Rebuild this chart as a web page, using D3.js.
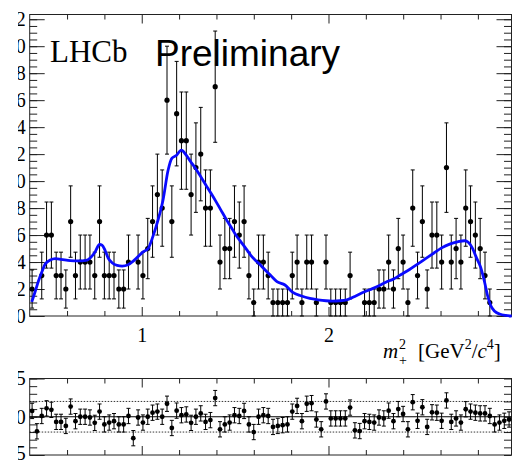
<!DOCTYPE html>
<html>
<head>
<meta charset="utf-8">
<script src="https://cdn.jsdelivr.net/npm/d3@7"></script>
<style>
body { margin: 0; background: #fff; }
svg { display: block; }
</style>
</head>
<body>
<div id="chart"></div>
<script>
// events per bin (100 bins)
var counts = [2,0,3,6,6,3,3,2,7,3, 4,4,4,3,7,3,3,3,2,2,
              4,0,4,3,5,7,9,8,16,7, 15,13,13,9,11,12,8,8,17,4,
              5,5,7,6,7,3,1,4,4,3, 1,1,1,1,3,4,1,4,4,1,
              0,4,1,1,1,1,3,0,0,1, 1,1,2,2,4,2,5,4,1,8,
              3,7,2,6,6,4,11,4,5,4, 8,7,6,5,3,1,0,0,0,0];
// pulls per bin
var pulls = [0.76,-1.9,0.1,1.1,0.9,-0.67,-0.67,-1.2,1.33,-0.58,
             0,0,-0.1,-0.8,0.67,-1.0,-0.76,-0.58,-1.0,-1.0,
             0.1,-2.8,-0.1,-0.76,0,0.53,0.67,0,1.7,-1.47,
             0.8,0.2,0.3,-0.8,0,0.44,-0.67,-0.44,2.44,-1.64,
             -1.0,-0.76,0.2,0.1,0.76,-1.0,-2.0,0,0.2,0.1,
             -1.33,-1.2,-1.1,-1.0,0.67,1.42,-0.58,1.7,1.78,-0.36,
             -1.64,2.0,-0.22,-0.22,-0.22,-0.22,1.2,-1.78,-1.87,-0.58,
             -0.67,-0.76,-0.1,-0.22,0.8,-0.58,1.0,0.36,-1.64,1.9,
             -0.53,1.24,-1.33,0.58,0.53,-0.53,2.13,-0.67,-0.22,-0.76,
             0.98,0.67,0.53,0.44,0.44,0.1,-1.0,-0.76,-0.53,-0.36];
// fit curve
var fitX = [0.411,0.429,0.447,0.466,0.483,0.510,0.537,0.568,0.617,0.659,
            0.702,0.724,0.750,0.774,0.788,0.804,0.820,0.841,0.868,0.895,
            0.927,0.953,0.980,1.007,1.034,1.060,1.087,1.114,1.141,1.162,
            1.185,1.212,1.239,1.264,1.290,1.317,1.344,1.371,1.397,1.424,
            1.451,1.478,1.504,1.531,1.558,1.584,1.611,1.638,1.665,1.691,
            1.724,1.767,1.809,1.852,1.900,1.943,1.986,2.023,2.061,2.098,
            2.141,2.178,2.221,2.264,2.307,2.349,2.392,2.434,2.477,2.520,
            2.563,2.606,2.649,2.691,2.729,2.750,2.772,2.793,2.815,2.836,
            2.852,2.868,2.890,2.916,2.949,2.981];
var fitY = [1.05,1.8,2.6,3.3,3.85,4.15,4.25,4.2,4.1,4.08,
            4.12,4.3,4.75,5.3,5.25,4.85,4.3,3.95,3.75,3.7,
            3.8,4.05,4.4,4.75,5.0,5.9,7.1,8.6,10.8,11.7,
            11.9,12.3,11.9,11.4,10.9,10.3,9.7,9.1,8.5,7.85,
            7.2,6.6,6.0,5.5,5.0,4.5,4.1,3.75,3.35,3.0,
            2.55,2.3,1.75,1.5,1.3,1.2,1.13,1.11,1.13,1.2,
            1.45,1.7,1.95,2.2,2.5,2.75,3.1,3.45,3.85,4.25,
            4.65,5.05,5.33,5.5,5.58,5.45,5.0,4.3,3.6,2.5,
            1.5,0.8,0.35,0.15,0.04,0.0];
var yLabels = [0,2,4,6,8,10,12,14,16,18,20,22];
var pullLabels = [-5,0,5];
var xLabels = [1,2];

var w = 512, h = 461;
var fr = {left: 29.7, right: 511.5, top: 14.5, bottom: 316};
var pfr = {top: 378.5, bottom: 455};
var xLo = 0.4, xHi = 2.98, binW = (xHi - xLo) / counts.length;
var ink = '#222', serif = 'Liberation Serif, Times New Roman, serif';

var svg = d3.select('#chart').append('svg')
    .attr('width', w)
    .attr('height', h);

var x = d3.scaleLinear().domain([xLo, xHi]).range([fr.left, fr.right]);
var y = d3.scaleLinear().domain([0, 22.35]).range([fr.bottom, fr.top]);
var yp = d3.scaleLinear().domain([-5, 5]).range([pfr.bottom, pfr.top]);

var minorX = d3.range(6, 30, 2).map(function(d) { return d / 10; })
    .filter(function(d) { return d !== 1 && d !== 2; });

function axisStyle(g) {
    g.select('.domain').remove();
    g.selectAll('line').attr('stroke', ink).attr('stroke-width', 1);
    g.selectAll('text').attr('font-family', serif).attr('font-size', 20).attr('fill', '#000');
}

// x axes, both pads
function xAxes(top, bottom, labels) {
    svg.append('g').attr('transform', translation(0, bottom))
        .call(d3.axisBottom(x).tickValues(xLabels).tickSizeInner(-9).tickSizeOuter(0)
            .tickPadding(12).tickFormat(labels ? d3.format('d') : ''))
        .call(axisStyle);
    svg.append('g').attr('transform', translation(0, bottom))
        .call(d3.axisBottom(x).tickValues(minorX).tickSizeInner(-5).tickSizeOuter(0).tickFormat(''))
        .call(axisStyle);
    svg.append('g').attr('transform', translation(0, top))
        .call(d3.axisTop(x).tickValues(xLabels).tickSizeInner(-9).tickSizeOuter(0).tickFormat(''))
        .call(axisStyle);
    svg.append('g').attr('transform', translation(0, top))
        .call(d3.axisTop(x).tickValues(minorX).tickSizeInner(-5).tickSizeOuter(0).tickFormat(''))
        .call(axisStyle);
}
xAxes(fr.top, fr.bottom, true);
xAxes(pfr.top, pfr.bottom, false);

// y axes main pad
var minorY = d3.range(0, 45).map(function(d) { return d / 2; });
svg.append('g').attr('transform', translation(fr.left, 0))
    .call(d3.axisLeft(y).tickValues(yLabels).tickSizeInner(-15).tickSizeOuter(0).tickPadding(4))
    .call(axisStyle);
svg.append('g').attr('transform', translation(fr.left, 0))
    .call(d3.axisLeft(y).tickValues(minorY).tickSizeInner(-7.5).tickSizeOuter(0).tickFormat(''))
    .call(axisStyle);
svg.append('g').attr('transform', translation(fr.right, 0))
    .call(d3.axisRight(y).tickValues(yLabels).tickSizeInner(-15).tickSizeOuter(0).tickFormat(''))
    .call(axisStyle);
svg.append('g').attr('transform', translation(fr.right, 0))
    .call(d3.axisRight(y).tickValues(minorY).tickSizeInner(-7.5).tickSizeOuter(0).tickFormat(''))
    .call(axisStyle);

// y axes pull pad
var minorP = d3.range(-5, 6);
svg.append('g').attr('transform', translation(fr.left, 0))
    .call(d3.axisLeft(yp).tickValues(pullLabels).tickSizeInner(-15).tickSizeOuter(0).tickPadding(4))
    .call(axisStyle)
    .selectAll('text').attr('dy', function(d) { return d < 0 ? '0.2em' : '0.32em'; });
svg.append('g').attr('transform', translation(fr.left, 0))
    .call(d3.axisLeft(yp).tickValues(minorP).tickSizeInner(-7.5).tickSizeOuter(0).tickFormat(''))
    .call(axisStyle);
svg.append('g').attr('transform', translation(fr.right, 0))
    .call(d3.axisRight(yp).tickValues(minorP).tickSizeInner(-7.5).tickSizeOuter(0).tickFormat(''))
    .call(axisStyle);

// frames
[[fr.top, fr.bottom], [pfr.top, pfr.bottom]].forEach(function(f) {
    svg.append('rect')
        .attr('x', fr.left).attr('y', f[0])
        .attr('width', fr.right - fr.left).attr('height', f[1] - f[0])
        .attr('fill', 'none').attr('stroke', ink).attr('stroke-width', 1);
});

// pull reference lines
svg.append('line')
    .attr('x1', fr.left).attr('x2', fr.right)
    .attr('y1', yp(0)).attr('y2', yp(0))
    .attr('stroke', '#000').attr('stroke-width', 1.2);
[-2, 2].forEach(function(v) {
    svg.append('line')
        .attr('x1', fr.left).attr('x2', fr.right)
        .attr('y1', yp(v)).attr('y2', yp(v))
        .attr('stroke', '#000').attr('stroke-width', 0.8)
        .attr('stroke-dasharray', '1.5,1.5');
});

// data points with sqrt(n) errors
var bins = counts.map(function(n, i) {
    return {x: xLo + (i + 0.5) * binW, n: n, e: Math.sqrt(n), p: pulls[i]};
});
var filled = bins.filter(function(d) { return d.n > 0; });

var pts = svg.append('g');
drawErrors(pts, filled, function(d) { return y(d.n + d.e); }, function(d) { return y(d.n - d.e); });
pts.selectAll('circle')
    .data(filled)
    .enter().append('circle')
    .attr('cx', function(d) { return x(d.x); })
    .attr('cy', function(d) { return y(d.n); })
    .attr('r', 2.6)
    .attr('fill', '#000');

// fit curve
var fit = fitX.map(function(v, i) { return [v, fitY[i]]; });
svg.append('path')
    .datum(fit)
    .attr('d', d3.line()
        .x(function(d) { return x(d[0]); })
        .y(function(d) { return y(d[1]); })
        .curve(d3.curveMonotoneX))
    .attr('fill', 'none')
    .attr('stroke', '#0a0aff')
    .attr('stroke-width', 2.8);

// pull points
var pp = svg.append('g');
drawErrors(pp, bins, function(d) { return yp(d.p + 1); }, function(d) { return yp(d.p - 1); });
pp.selectAll('circle')
    .data(bins)
    .enter().append('circle')
    .attr('cx', function(d) { return x(d.x); })
    .attr('cy', function(d) { return yp(d.p); })
    .attr('r', 2.4)
    .attr('fill', '#000');

// labels
svg.append('text')
    .attr('x', 50).attr('y', 62)
    .attr('font-family', serif).attr('font-size', 31)
    .text('LHCb');
svg.append('text')
    .attr('x', 155).attr('y', 66)
    .attr('font-family', 'Liberation Sans, Arial, sans-serif').attr('font-size', 37)
    .text('Preliminary');

var xt = svg.append('g').attr('font-family', serif).attr('font-size', 21);
xt.append('text').attr('x', 383).attr('y', 358).attr('font-style', 'italic').text('m');
xt.append('text').attr('x', 399).attr('y', 349).attr('font-size', 14).text('2');
xt.append('text').attr('x', 399).attr('y', 365).attr('font-size', 14).text('+');
var t2 = xt.append('text').attr('x', 418).attr('y', 358);
t2.append('tspan').text('[GeV');
t2.append('tspan').attr('dy', -9).attr('font-size', 14).text('2');
t2.append('tspan').attr('dy', 9).text('/');
t2.append('tspan').attr('font-style', 'italic').text('c');
t2.append('tspan').attr('dy', -9).attr('font-size', 14).text('4');
t2.append('tspan').attr('dy', 9).text(']');

// left edge of the figure is cut off
svg.append('rect')
    .attr('x', 0).attr('y', 0)
    .attr('width', 18).attr('height', h)
    .attr('fill', '#fff');

/* HELPER FUNCTIONS */
function translation(a, b) {
    return 'translate(' + a + ',' + b + ')';
}

function drawErrors(g, data, top, bot) {
    var eb = g.selectAll('.eb')
        .data(data)
        .enter().append('g')
        .attr('class', 'eb')
        .attr('stroke', '#000')
        .attr('stroke-width', 1);
    eb.append('line')
        .attr('x1', function(d) { return x(d.x); })
        .attr('x2', function(d) { return x(d.x); })
        .attr('y1', top)
        .attr('y2', bot);
    [top, bot].forEach(function(f) {
        eb.append('line')
            .attr('x1', function(d) { return x(d.x) - 2; })
            .attr('x2', function(d) { return x(d.x) + 2; })
            .attr('y1', f)
            .attr('y2', f);
    });
}
</script>
</body>
</html>
